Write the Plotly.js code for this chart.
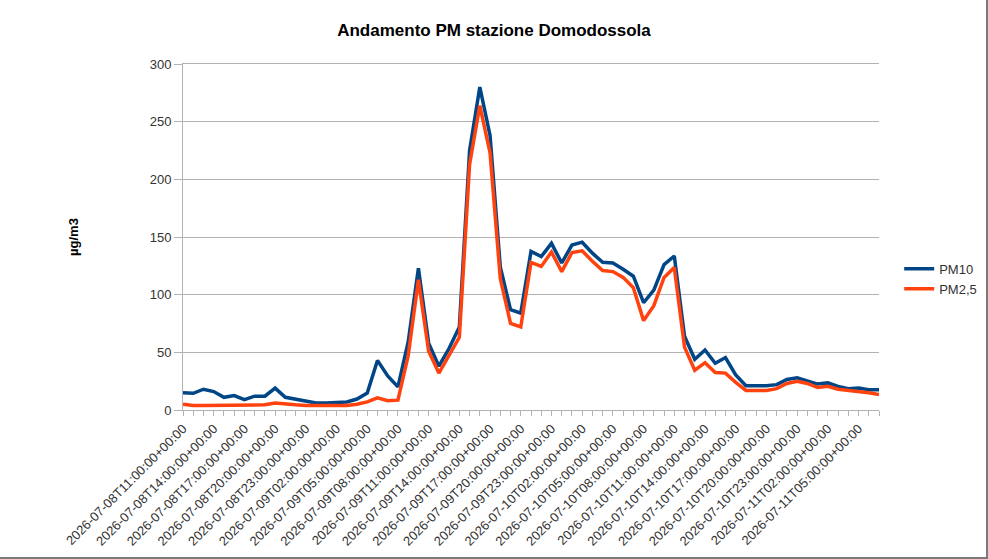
<!DOCTYPE html>
<html>
<head>
<meta charset="utf-8">
<script src="https://cdn.plot.ly/plotly-3.0.1.min.js"></script>
<style>
  body { margin: 0; background: #fff; }
  #wrap { position: relative; width: 988px; height: 559px; }
  #chart { width: 988px; height: 559px; }
  #frame { position: absolute; left: 0; top: 0; width: 988px; height: 559px; box-sizing: border-box;
           border-right: 2px solid #7a7a7a; border-bottom: 2px solid #7a7a7a; pointer-events: none; }
</style>
</head>
<body>
<div id="wrap">
  <div id="chart"></div>
  <div id="frame"></div>
</div>
<script>
"use strict";

// hourly readings, 2026-07-08 11:00 -> 2026-07-11 07:00 (UTC)
const hours = [
  '2026-07-08 11:00', '2026-07-08 12:00', '2026-07-08 13:00', '2026-07-08 14:00', '2026-07-08 15:00',
  '2026-07-08 16:00', '2026-07-08 17:00', '2026-07-08 18:00', '2026-07-08 19:00', '2026-07-08 20:00',
  '2026-07-08 21:00', '2026-07-08 22:00', '2026-07-08 23:00', '2026-07-09 00:00', '2026-07-09 01:00',
  '2026-07-09 02:00', '2026-07-09 03:00', '2026-07-09 04:00', '2026-07-09 05:00', '2026-07-09 06:00',
  '2026-07-09 07:00', '2026-07-09 08:00', '2026-07-09 09:00', '2026-07-09 10:00', '2026-07-09 11:00',
  '2026-07-09 12:00', '2026-07-09 13:00', '2026-07-09 14:00', '2026-07-09 15:00', '2026-07-09 16:00',
  '2026-07-09 17:00', '2026-07-09 18:00', '2026-07-09 19:00', '2026-07-09 20:00', '2026-07-09 21:00',
  '2026-07-09 22:00', '2026-07-09 23:00', '2026-07-10 00:00', '2026-07-10 01:00', '2026-07-10 02:00',
  '2026-07-10 03:00', '2026-07-10 04:00', '2026-07-10 05:00', '2026-07-10 06:00', '2026-07-10 07:00',
  '2026-07-10 08:00', '2026-07-10 09:00', '2026-07-10 10:00', '2026-07-10 11:00', '2026-07-10 12:00',
  '2026-07-10 13:00', '2026-07-10 14:00', '2026-07-10 15:00', '2026-07-10 16:00', '2026-07-10 17:00',
  '2026-07-10 18:00', '2026-07-10 19:00', '2026-07-10 20:00', '2026-07-10 21:00', '2026-07-10 22:00',
  '2026-07-10 23:00', '2026-07-11 00:00', '2026-07-11 01:00', '2026-07-11 02:00', '2026-07-11 03:00',
  '2026-07-11 04:00', '2026-07-11 05:00', '2026-07-11 06:00', '2026-07-11 07:00'
];

const pm10 = [
  15, 14.5, 18, 16, 11, 12.5, 9, 12, 12, 19,
  11, 9.5, 7.5, 6, 6, 6.5, 7, 9.5, 14.7, 43,
  29.5, 20, 59, 123, 58, 38, 53.5, 72, 225, 280,
  238, 124, 87, 84, 137.5, 133, 144.5, 127.5, 143, 145.5,
  136, 128, 127.5, 122, 116, 93, 104, 126, 133.5, 64,
  44, 52, 40.5, 45.5, 30.5, 21, 21, 21, 22, 26.5,
  28, 25.5, 22.5, 23.5, 20.5, 18.5, 19, 17.5, 17.5
];

const pm25 = [
  5, 4, 4, 4, 4, 4, 4, 4.5, 4.5, 6,
  5, 4.5, 4, 4, 4, 4, 4, 5, 7, 10.5,
  8, 8.5, 47, 113, 51, 32, 47, 63, 213, 264,
  223, 114, 75, 72, 128, 124.5, 137, 120, 136.5, 138,
  129, 121, 120, 115, 106, 77.5, 90.5, 115, 123.5, 54.5,
  34.5, 41, 32.5, 32, 24, 17, 17, 17, 18.5, 23,
  25, 23, 19.5, 20.5, 18, 17, 16.5, 15, 13.5
];

const seriesNames = ['PM10', 'PM2,5'];
const seriesColors = ['#004586', '#ff420e'];

const traces = [pm10, pm25].map((vals, i) => ({
  x: hours,
  y: vals,
  name: seriesNames[i],
  type: 'scatter',
  mode: 'lines',
  line: { color: seriesColors[i], width: 3.5 }
}));

const layout = {
  width: 988,
  height: 559,
  margin: { l: 183, r: 109, t: 64, b: 149, autoexpand: false },
  paper_bgcolor: '#ffffff',
  plot_bgcolor: '#ffffff',
  font: { family: '"Liberation Sans", Arial, sans-serif', color: '#333333', size: 13 },
  title: {
    text: '<b>Andamento PM stazione Domodossola</b>',
    font: { size: 17, color: '#000000' },
    xref: 'container', x: 0.5, xanchor: 'center',
    yref: 'container', y: 1 - 30 / 559, yanchor: 'middle'
  },
  showlegend: true,
  legend: {
    x: 1.029, xanchor: 'left',
    y: 0.379, yanchor: 'middle',
    font: { size: 13, color: '#333333' },
    bgcolor: 'rgba(0,0,0,0)'
  },
  xaxis: {
    type: 'date',
    range: [hours[0], hours[hours.length - 1]],
    tick0: hours[0],
    dtick: 3 * 3600000,
    tickformat: '%Y-%m-%dT%H:%M:%S+00:00',
    tickangle: -45,
    tickfont: { size: 13, color: '#333333' },
    ticks: 'outside',
    ticklen: 5,
    tickcolor: '#b3b3b3',
    minor: { dtick: 3600000, tick0: hours[0], ticks: 'outside', ticklen: 5, tickcolor: '#b3b3b3', showgrid: false },
    showgrid: false,
    showline: true,
    linecolor: '#b3b3b3',
    linewidth: 1,
    mirror: true,
    zeroline: false,
    automargin: false,
    fixedrange: true
  },
  yaxis: {
    range: [0, 300],
    dtick: 50,
    tickfont: { size: 13, color: '#333333' },
    ticks: 'outside',
    ticklen: 8,
    tickcolor: '#b3b3b3',
    showgrid: true,
    gridcolor: '#b3b3b3',
    showline: true,
    linecolor: '#b3b3b3',
    zeroline: false,
    automargin: false,
    title: {
      text: '<b>µg/m3</b>',
      font: { size: 13, color: '#000000' },
      standoff: 68
    },
    fixedrange: true
  }
};

Plotly.newPlot('chart', traces, layout, { displayModeBar: false, staticPlot: true });
</script>
</body>
</html>
